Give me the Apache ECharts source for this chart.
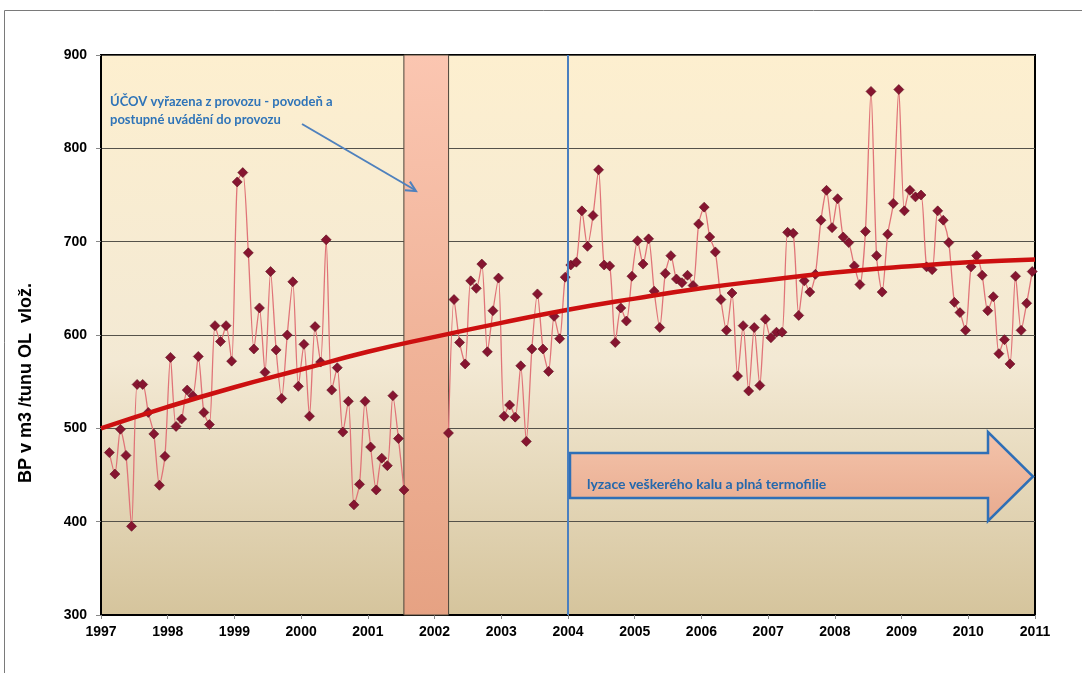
<!DOCTYPE html>
<html>
<head>
<meta charset="utf-8">
<script src="https://cdn.jsdelivr.net/npm/echarts@6/dist/echarts.min.js"></script>
<style>
  html, body { margin: 0; padding: 0; background: #fff; }
  #chart { width: 1082px; height: 673px; }
</style>
</head>
<body>
<div id="chart"></div>
<script>
// monthly values, first segment starts Feb 1997
const seg1Start = [1997, 2]
const seg1Values = [
  474, 451, 499, 471, 395, 547, 547, 517, 494, 439, 470,
  576, 502, 510, 541, 535, 577, 517, 504, 610, 593, 610, 572,
  764, 774, 688, 585, 629, 560, 668, 584, 532, 600, 657, 545, 590,
  513, 609, 571, 702, 541, 565, 496, 529, 418, 440, 529, 480,
  434, 468, 460, 535, 489, 434
]

// second segment starts Mar 2002 (after the outage)
const seg2Start = [2002, 3]
const seg2Values = [
  495, 638, 592, 569, 658, 650, 676, 582, 626, 661,
  513, 525, 512, 567, 486, 585, 644, 585, 561, 620,
  596, 662, 675, 678, 733, 695, 728, 777, 675, 674,
  592, 629, 615, 663, 701, 676, 703, 647, 608, 666,
  685, 660, 656, 664, 653, 719, 737, 705, 689, 638,
  605, 645, 556, 610, 540, 608, 546, 617, 597, 603,
  603, 710, 709, 621, 658, 646, 665, 723, 755, 715,
  746, 705, 699, 674, 654, 711, 861, 685, 646, 708,
  741, 863, 733, 755, 748, 750, 673, 670, 733, 723,
  699, 635, 624, 605, 673, 685, 664, 626, 641, 580,
  595, 569, 663, 605, 634, 668
]

// trend curve at each year boundary
const trendYears = [1997, 1998, 1999, 2000, 2001, 2002, 2003, 2004, 2005, 2006, 2007, 2008, 2009, 2010, 2011]
const trendValues = [500, 523, 544, 563, 582, 598, 613, 627, 639, 650, 659, 667, 673, 678, 681]

const outageBand = [2001.54, 2002.21]
const lyseStart = 2004.0

const yTitle = 'BP v m3 /tunu OL  vlož.'
const noteOutage = ['ÚČOV vyřazena z provozu - povodeň a', 'postupné uvádění do provozu']
const noteLyse = 'lyzace veškerého kalu a plná termofilie'

function toPoints(start, values) {
  return values.map((v, i) => {
    const m = start[1] - 1 + i
    return [start[0] + (m + 0.5) / 12, v]
  })
}

const lineStyle = { color: '#e07478', width: 1.3 }
const pointStyle = { color: '#861530', borderColor: '#5e0c1e', borderWidth: 0.6 }

function monthlySeries(name, start, values, extra) {
  return Object.assign({
    name: name,
    type: 'line',
    data: toPoints(start, values),
    smooth: 0.25,
    symbol: 'diamond',
    symbolSize: 10,
    showAllSymbol: true,
    lineStyle: lineStyle,
    itemStyle: pointStyle,
    z: 3,
    animation: false
  }, extra || {})
}

const chart = echarts.init(document.getElementById('chart'))

const blue = '#2f74b8'

const option = {
  backgroundColor: '#fff',
  animation: false,
  grid: {
    left: 101, right: 47, top: 55, bottom: 58,
    show: true,
    borderColor: '#000',
    borderWidth: 2,
    backgroundColor: {
      type: 'linear', x: 0, y: 0, x2: 0, y2: 1,
      colorStops: [
        { offset: 0, color: '#fdefcf' },
        { offset: 0.55, color: '#f3e9d4' },
        { offset: 1, color: '#d5c49c' }
      ]
    }
  },
  xAxis: {
    type: 'value',
    min: 1997, max: 2011, interval: 1,
    axisLine: { show: true, lineStyle: { color: '#000', width: 2 } },
    axisTick: { show: true, length: 4, lineStyle: { color: '#888' } },
    splitLine: { show: false },
    axisLabel: {
      color: '#000', fontWeight: 'bold', fontSize: 14,
      fontFamily: 'Liberation Sans, Arial, sans-serif',
      margin: 10,
      formatter: v => String(v)
    }
  },
  yAxis: {
    type: 'value',
    min: 300, max: 900, interval: 100,
    axisLine: { show: true, lineStyle: { color: '#000', width: 2 } },
    axisTick: { show: true, length: 5, lineStyle: { color: '#888' } },
    splitLine: { show: true, lineStyle: { color: '#55524a', width: 1 } },
    axisLabel: {
      color: '#000', fontWeight: 'bold', fontSize: 14,
      fontFamily: 'Liberation Sans, Arial, sans-serif',
      margin: 14
    }
  },
  series: [
    monthlySeries('BP 1997-2001', seg1Start, seg1Values, {
      markArea: {
        silent: true,
        itemStyle: {
          color: {
            type: 'linear', x: 0, y: 0, x2: 0, y2: 1,
            colorStops: [
              { offset: 0, color: '#fbc6b1' },
              { offset: 1, color: '#e6a283' }
            ]
          },
          borderColor: '#4a4438',
          borderWidth: 1
        },
        data: [[{ xAxis: outageBand[0] }, { xAxis: outageBand[1] }]]
      },
      markLine: {
        silent: true,
        symbol: 'none',
        label: { show: false },
        lineStyle: { color: '#4a7fc0', width: 2, type: 'solid' },
        data: [{ xAxis: lyseStart }]
      }
    }),
    monthlySeries('BP 2002-2010', seg2Start, seg2Values),
    {
      name: 'trend',
      type: 'line',
      data: trendYears.map((y, i) => [y, trendValues[i]]),
      smooth: true,
      symbol: 'none',
      lineStyle: { color: '#cc1010', width: 4.5 },
      z: 4,
      animation: false
    }
  ],
  graphic: [
    {
      type: 'rect', silent: true, z: 0,
      shape: { x: 4.5, y: 10.5, width: 1100, height: 700 },
      style: { fill: 'none', stroke: '#7a7a7a', lineWidth: 1 }
    },
    {
      type: 'text', z: 10,
      x: 26, y: 383, rotation: Math.PI / 2,
      style: {
        text: yTitle, fill: '#000',
        font: 'bold 18px "Liberation Sans", Arial, sans-serif',
        align: 'center', verticalAlign: 'middle'
      }
    },
    {
      type: 'text', z: 10, x: 110, y: 93,
      style: {
        text: noteOutage.join('\n'), fill: blue,
        font: 'bold 13px Lato, sans-serif', lineHeight: 18
      }
    },
    {
      type: 'polyline', z: 10,
      shape: { points: [[302, 124], [415, 190]] },
      style: { stroke: '#4f81bd', lineWidth: 2 }
    },
    {
      type: 'polyline', z: 10,
      shape: { points: [[404.9, 190.2], [416, 191], [409.9, 181.6]] },
      style: { stroke: '#4f81bd', lineWidth: 2, fill: 'none' }
    },
    {
      type: 'polygon', z: 8,
      shape: {
        points: [[570, 453], [988, 453], [988, 432], [1033, 476.5], [988, 521], [988, 498], [570, 498]]
      },
      style: {
        fill: {
          type: 'linear', x: 0, y: 0, x2: 0, y2: 1,
          colorStops: [
            { offset: 0, color: '#f4c4ab' },
            { offset: 1, color: '#e8aa8e' }
          ]
        },
        stroke: '#2e6fb7', lineWidth: 2.5
      }
    },
    {
      type: 'text', z: 10, x: 587, y: 484,
      style: {
        text: noteLyse, fill: '#2468ad',
        font: 'bold 14px Lato, sans-serif',
        verticalAlign: 'middle'
      }
    }
  ]
}

chart.setOption(option)
</script>
</body>
</html>
